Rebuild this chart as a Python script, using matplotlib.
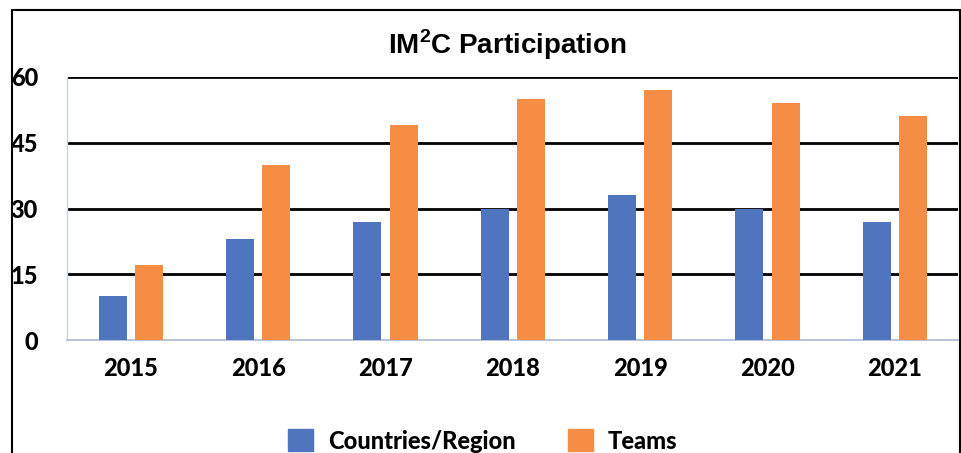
import matplotlib
matplotlib.use("Agg")
from matplotlib import pyplot as plt
from matplotlib.patches import Rectangle, Patch
import numpy as np

years = ["2015", "2016", "2017", "2018", "2019", "2020", "2021"]
countries = [10, 23, 27, 30, 33, 30, 27]
teams = [17, 40, 49, 55, 57, 54, 51]
yticks = [0, 15, 30, 45, 60]

blue = "#4E75BE"
orange = "#F58D45"
label_font = {"family": "Lato", "weight": 900, "size": 17}

plt.rcParams["mathtext.fontset"] = "custom"
plt.rcParams["mathtext.bf"] = "Liberation Sans:bold"
plt.rcParams["mathtext.rm"] = "Liberation Sans:bold"

fig = plt.figure(figsize=(9.62, 4.53), dpi=100)
ax = fig.add_axes([67.2 / 962, 1 - 340 / 453, 891.2 / 962, 263 / 453])

x = np.arange(len(years))
w = 0.22
off = 0.142
ax.bar(x - off, countries, w, color=blue, label="Countries/Region", zorder=3)
ax.bar(x + off, teams, w, color=orange, label="Teams", zorder=3)

ax.set_xlim(-0.5, len(years) - 0.5)
ax.set_ylim(0, 60)
ax.set_yticks(yticks)
ax.set_xticks(x)
ax.set_xticklabels(years)
for t in yticks[1:]:
    ax.axhline(t, color="black", lw=2, zorder=2)

ax.tick_params(length=0)
ax.tick_params(axis="y", pad=21)
ax.tick_params(axis="x", pad=12)
for lab in ax.get_xticklabels() + ax.get_yticklabels():
    lab.set_fontproperties(label_font)

for s in ["top", "right"]:
    ax.spines[s].set_visible(False)
ax.spines["left"].set_color("#C5D3EC")
ax.spines["bottom"].set_color("#A9B9D6")
ax.spines["left"].set_linewidth(1)
ax.spines["bottom"].set_linewidth(1.2)

fig.text(507 / 962, 1 - 45 / 453, r"IM$^{\mathbf{2}}$C Participation",
         ha="center", va="center", fontsize=20, fontweight="bold",
         fontfamily="Liberation Sans")

handles = [Patch(color=blue), Patch(color=orange)]
fig.legend(handles, ["Countries/Region", "Teams"], loc="center",
           bbox_to_anchor=(483 / 962, 1 - 441 / 453), ncol=2, frameon=False,
           prop=label_font,
           handlelength=1.05, handleheight=1.05, handletextpad=0.65,
           columnspacing=2.2)

# outer chart frame (cropped at bottom)
fig.patches.append(Rectangle((12 / 962, -0.2), 948 / 962, 1.2 - 10 / 453,
                             transform=fig.transFigure, fill=False,
                             edgecolor="black", lw=1.5))

fig.savefig("out.png", dpi=100)
